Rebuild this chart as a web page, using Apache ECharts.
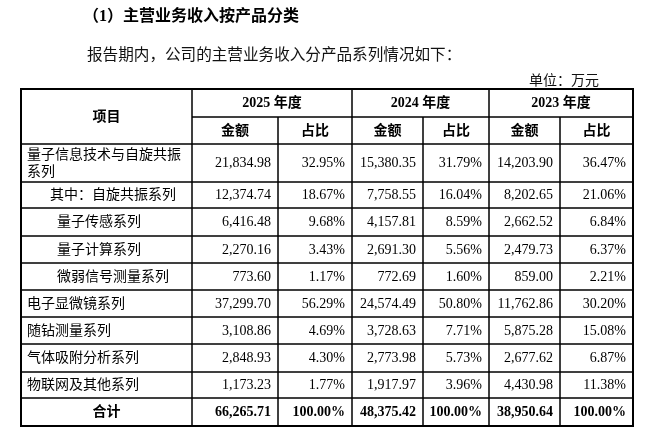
<!DOCTYPE html>
<html>
<head>
<meta charset="utf-8">
<script src="https://cdn.jsdelivr.net/npm/echarts@6/dist/echarts.min.js"></script>
<style>
html,body{margin:0;padding:0;background:#fff;}
#main{width:650px;height:433px;}
</style>
</head>
<body>
<div id="main"></div>
<script>
// ---- data ----
const titleText = '（1）主营业务收入按产品分类';
const subtitleText = '报告期内，公司的主营业务收入分产品系列情况如下：';
const unitText = '单位：万元';
const headerItem = '项目';
const years = ['2025 年度', '2024 年度', '2023 年度'];
const subHeaders = ['金额', '占比'];
const categories = ['量子信息技术与自旋共振系列', '其中：自旋共振系列', '量子传感系列', '量子计算系列', '微弱信号测量系列', '电子显微镜系列', '随钻测量系列', '气体吸附分析系列', '物联网及其他系列', '合计'];
const levels = [0, 1, 2, 2, 2, 0, 0, 0, 0, 3];
const amount2025 = [21834.98, 12374.74, 6416.48, 2270.16, 773.60, 37299.70, 3108.86, 2848.93, 1173.23, 66265.71];
const share2025 = [32.95, 18.67, 9.68, 3.43, 1.17, 56.29, 4.69, 4.30, 1.77, 100.00];
const amount2024 = [15380.35, 7758.55, 4157.81, 2691.30, 772.69, 24574.49, 3728.63, 2773.98, 1917.97, 48375.42];
const share2024 = [31.79, 16.04, 8.59, 5.56, 1.60, 50.80, 7.71, 5.73, 3.96, 100.00];
const amount2023 = [14203.90, 8202.65, 2662.52, 2479.73, 859.00, 11762.86, 5875.28, 2677.62, 4430.98, 38950.64];
const share2023 = [36.47, 21.06, 6.84, 6.37, 2.21, 30.20, 15.08, 6.87, 11.38, 100.00];

// ---- layout ----
const colW = [171, 86, 74, 71, 66, 71, 73];
const rowH = [28, 27, 38, 26, 28, 27, 27, 27, 27, 28, 26, 28];
const indentPx = [0, 23, 30];
const xs = [0]; colW.forEach(w => xs.push(xs[xs.length - 1] + w));
const ys = [0]; rowH.forEach(h => ys.push(ys[ys.length - 1] + h));
const TW = xs[xs.length - 1], TH = ys[ys.length - 1];
const FONT = '"Liberation Serif", "Noto Sans CJK SC", serif';

const fmtAmt = v => v.toLocaleString('en-US', {minimumFractionDigits: 2, maximumFractionDigits: 2});
const fmtPct = v => v.toFixed(2) + '%';

const cells = [];
function cell(c0, c1, r0, r1, text, align, bold, indent) {
  cells.push({x0: xs[c0], x1: xs[c1], y0: ys[r0], y1: ys[r1], text, align, bold, indent: indent || 0});
}
cell(0, 1, 0, 2, headerItem, 'center', true);
years.forEach((y, i) => {
  cell(1 + 2 * i, 3 + 2 * i, 0, 1, y, 'center', true);
  subHeaders.forEach((s, j) => cell(1 + 2 * i + j, 2 + 2 * i + j, 1, 2, s, 'center', true));
});
const series = [[amount2025, share2025], [amount2024, share2024], [amount2023, share2023]];
categories.forEach((name, r) => {
  const total = levels[r] === 3;
  cell(0, 1, r + 2, r + 3, name, total ? 'center' : 'left', total, total ? 0 : indentPx[levels[r]]);
  series.forEach((pair, i) => {
    cell(1 + 2 * i, 2 + 2 * i, r + 2, r + 3, fmtAmt(pair[0][r]), 'right', total);
    cell(2 + 2 * i, 3 + 2 * i, r + 2, r + 3, fmtPct(pair[1][r]), 'right', total);
  });
});

const chart = echarts.init(document.getElementById('main'), null, {renderer: 'canvas'});
chart.setOption({
  animation: false,
  backgroundColor: '#fff',
  title: [
    {text: titleText, left: 78, top: 4, textStyle: {fontFamily: FONT, fontSize: 16, fontWeight: 'bold', color: '#000'}},
    {text: subtitleText, left: 82, top: 43, textStyle: {fontFamily: FONT, fontSize: 15.6, fontWeight: 'normal', color: '#111'}},
    {text: unitText, right: 46, top: 69, textStyle: {fontFamily: FONT, fontSize: 14, fontWeight: 'normal', color: '#111'}}
  ],
  grid: {left: 21, top: 89, width: TW, height: TH},
  xAxis: {type: 'value', min: 0, max: TW, show: false},
  yAxis: {type: 'value', min: 0, max: TH, inverse: true, show: false},
  series: [{
    type: 'custom',
    coordinateSystem: 'cartesian2d',
    clip: false,
    data: cells.map((c, i) => [i]).concat([[-1]]),
    renderItem: function (params, api) {
      const idx = api.value(0);
      if (idx < 0) {
        const a = api.coord([0, 0]), b = api.coord([TW, TH]);
        return {type: 'rect', shape: {x: a[0], y: a[1], width: b[0] - a[0], height: b[1] - a[1]},
          style: {fill: 'none', stroke: '#000', lineWidth: 2}};
      }
      const c = cells[idx];
      const p0 = api.coord([c.x0, c.y0]);
      const p1 = api.coord([c.x1, c.y1]);
      const w = p1[0] - p0[0], h = p1[1] - p0[1];
      let tx, ta;
      if (c.align === 'left') { tx = p0[0] + 6 + c.indent; ta = 'left'; }
      else if (c.align === 'right') { tx = p1[0] - 7; ta = 'right'; }
      else { tx = p0[0] + w / 2; ta = 'center'; }
      return {
        type: 'group',
        children: [
          {type: 'rect', shape: {x: p0[0], y: p0[1], width: w, height: h},
            style: {fill: 'none', stroke: '#000', lineWidth: 1}},
          {type: 'text', style: {
            text: c.text, x: tx, y: p0[1] + h / 2 + 0.5,
            align: ta, verticalAlign: 'middle',
            width: w - 8 - c.indent, overflow: 'break', lineHeight: 17,
            fontFamily: FONT, fontSize: 14, fontWeight: c.bold ? 'bold' : 'normal', fill: '#000'
          }}
        ]
      };
    }
  }]
});
</script>
</body>
</html>
